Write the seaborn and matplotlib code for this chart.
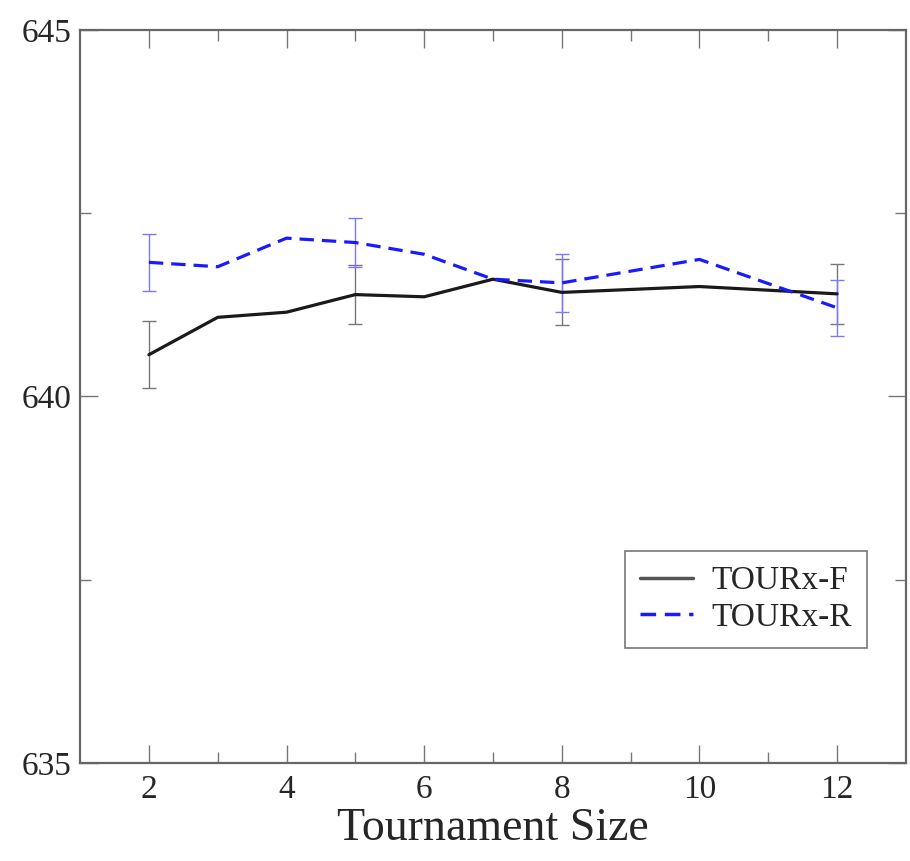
import pandas as pd
import numpy as np
import matplotlib
matplotlib.use("Agg")
import matplotlib.pyplot as plt
import seaborn as sns

# --------------------------
# DATA
# --------------------------
sizes = [2, 3, 4, 5, 6, 7, 8, 10, 12]
tour_f = [640.57, 641.08, 641.15, 641.39, 641.36, 641.60, 641.42, 641.50, 641.40]
tour_r = [641.83, 641.77, 642.16, 642.10, 641.94, 641.60, 641.55, 641.87, 641.21]

err_x = [2, 5, 8, 12]
err_f = [0.46, 0.40, 0.45, 0.41]
err_r = [0.39, 0.34, 0.40, 0.38]

df = pd.DataFrame({
    "Tournament Size": sizes * 2,
    "value": tour_f + tour_r,
    "method": ["TOURx-F"] * len(sizes) + ["TOURx-R"] * len(sizes),
})

# --------------------------
# STYLE
# --------------------------
sns.set_style("ticks")
plt.rcParams["font.family"] = ["Liberation Serif", "DejaVu Serif"]

fig = plt.figure(figsize=(9.1, 8.61), dpi=100)
ax = fig.add_axes([0.088, 0.1138, 0.9075, 0.8514])

palette = {"TOURx-F": "#1a1a1a", "TOURx-R": "#1a1aff"}
sns.lineplot(data=df, x="Tournament Size", y="value", hue="method", style="method",
             palette=palette, dashes={"TOURx-F": "", "TOURx-R": (4.5, 2.5)},
             linewidth=2.3, ax=ax, legend=False, zorder=3)

# error bars only at a few sizes
f_at = [tour_f[sizes.index(v)] for v in err_x]
r_at = [tour_r[sizes.index(v)] for v in err_x]
ax.errorbar(err_x, f_at, yerr=err_f, fmt="none", ecolor="#777777",
            elinewidth=1.0, capsize=5, capthick=1.0, zorder=2)
ax.errorbar(err_x, r_at, yerr=err_r, fmt="none", ecolor="#7a7aff",
            elinewidth=1.0, capsize=5, capthick=1.0, zorder=2)

# --------------------------
# AXES
# --------------------------
ax.set_xlim(1, 13)
ax.set_ylim(635, 645)
ax.set_xticks([2, 4, 6, 8, 10, 12])
ax.set_xticks([3, 5, 7, 9, 11], minor=True)
ax.set_yticks([635, 640, 645])
ax.set_yticks([637.5, 642.5], minor=True)

ax.tick_params(which="both", direction="in", top=True, right=True,
               color="#777777", width=1.0)
ax.tick_params(which="major", length=13)
ax.tick_params(which="minor", length=8)
ax.tick_params(axis="x", which="major", labelsize=24, pad=8)
ax.tick_params(axis="y", which="major", labelsize=24, pad=6)

for sp in ax.spines.values():
    sp.set_color("#666666")
    sp.set_linewidth(1.6)

ax.set_xlabel("Tournament Size", fontsize=33, labelpad=2)
ax.set_ylabel("")

# legend
from matplotlib.lines import Line2D
handles = [
    Line2D([], [], color="#555555", lw=2.5),
    Line2D([], [], color="#1a1aff", lw=2.5, dashes=(4.5, 2.5)),
]
leg = ax.legend(handles, ["TOURx-F", "TOURx-R"], loc="lower right",
                bbox_to_anchor=(0.953, 0.157), fontsize=24, frameon=True,
                fancybox=False, framealpha=1, edgecolor="#777777",
                handlelength=1.6, handletextpad=0.55, labelspacing=0.18,
                borderpad=0.45, borderaxespad=0)
leg.get_frame().set_linewidth(1.2)

fig.savefig("out.png", dpi=100)
